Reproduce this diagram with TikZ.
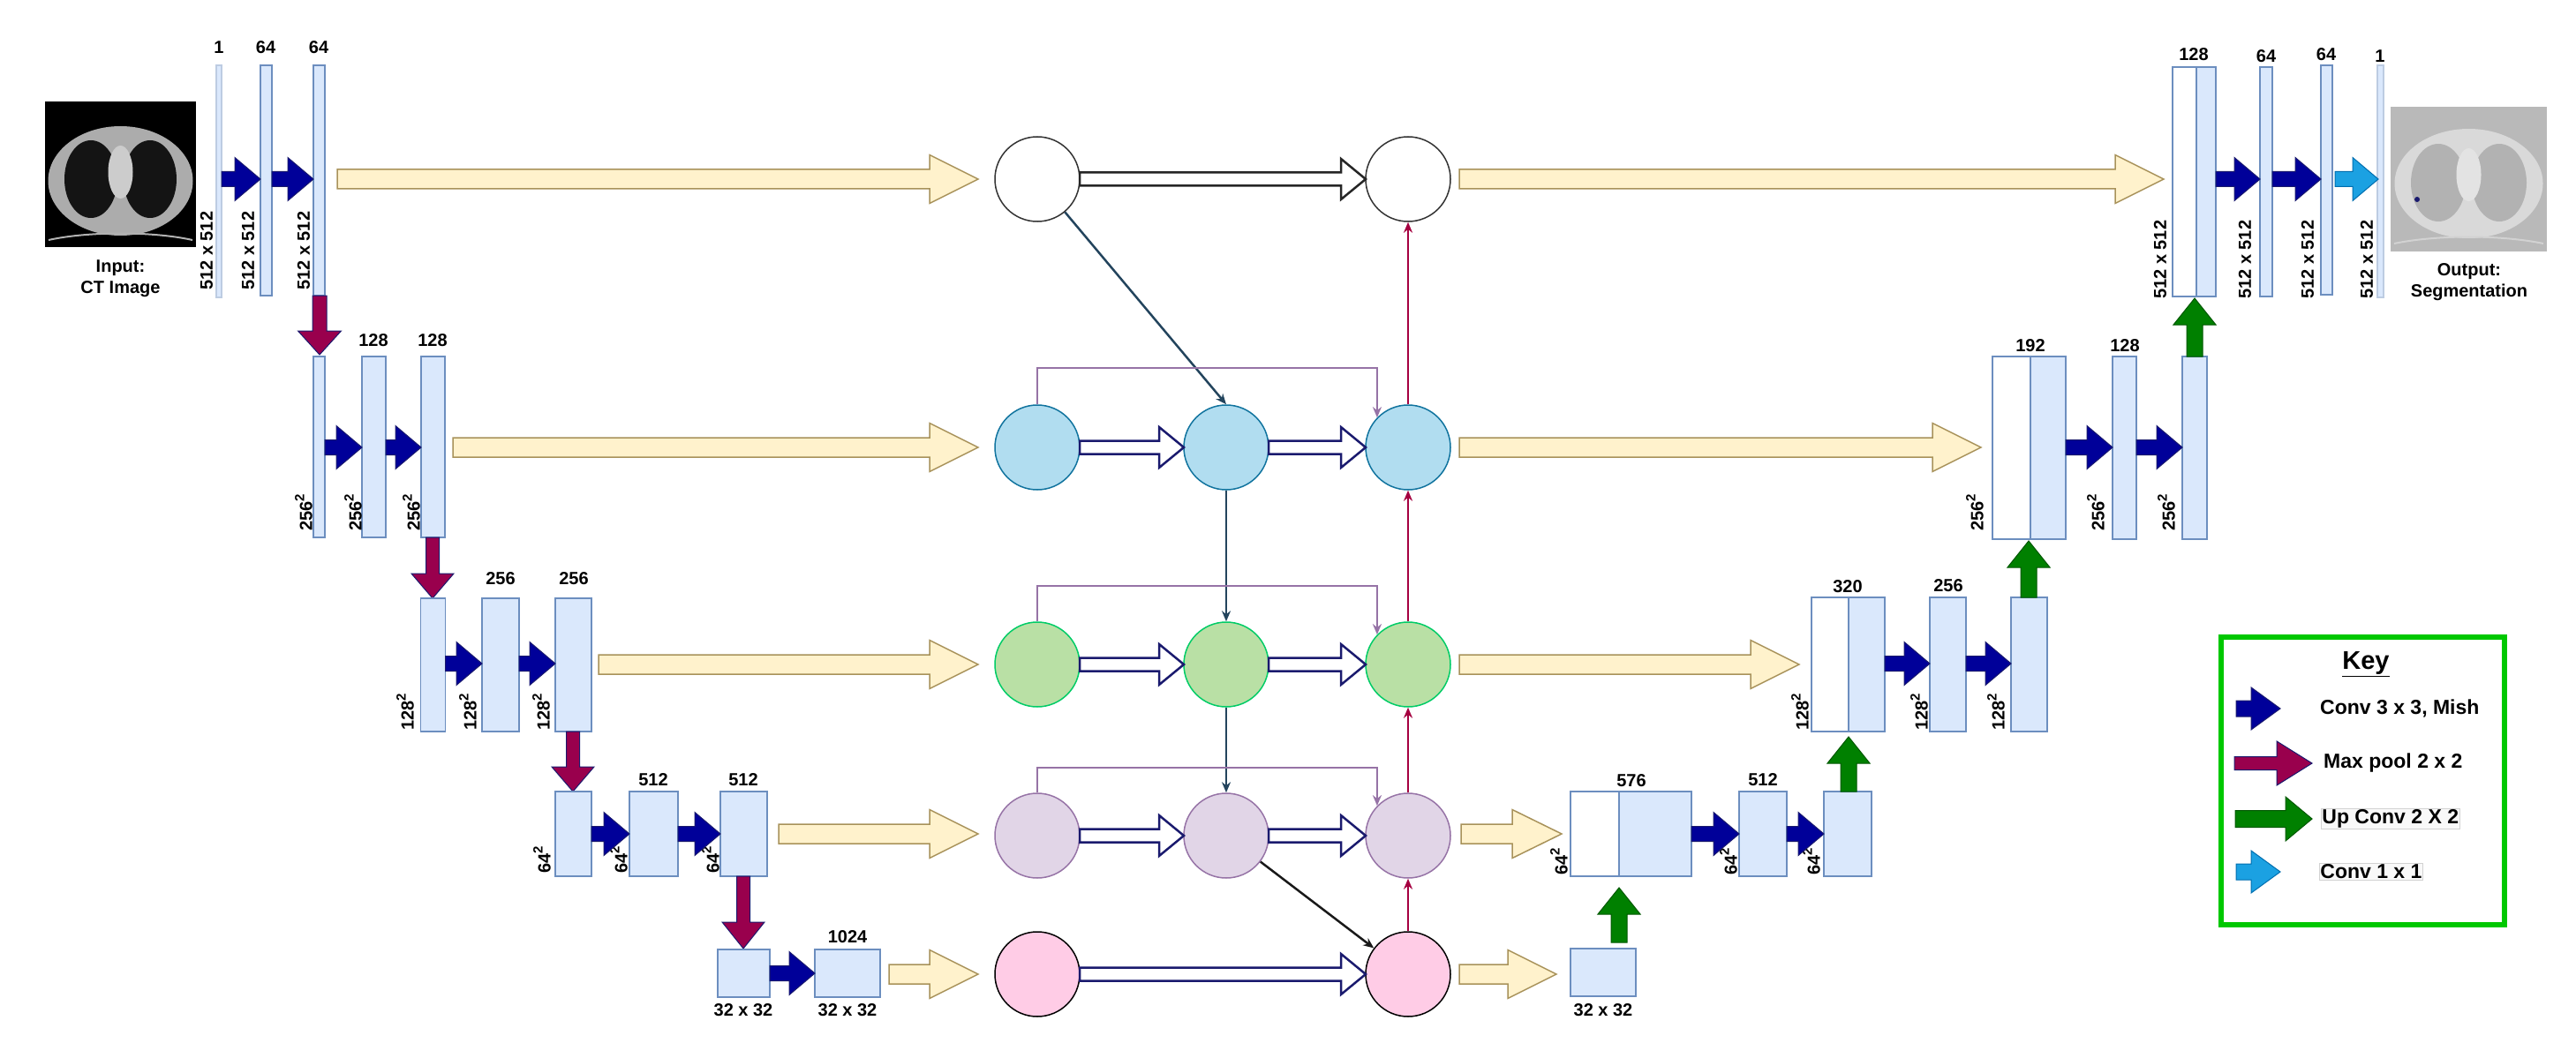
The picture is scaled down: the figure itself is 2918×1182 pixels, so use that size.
\documentclass[tikz,border=0pt]{standalone}
\usepackage{fontspec}
\setmainfont{Liberation Sans}
\usetikzlibrary{arrows.meta}
\definecolor{barF}{HTML}{DAE8FC}\definecolor{barS}{HTML}{6C8EBF}
\definecolor{convF}{HTML}{000099}\definecolor{convS}{HTML}{1A1A6E}
\definecolor{poolF}{HTML}{99004D}
\definecolor{upF}{HTML}{008000}\definecolor{upS}{HTML}{005700}
\definecolor{ocF}{HTML}{1BA1E2}\definecolor{ocS}{HTML}{006EAF}
\definecolor{skF}{HTML}{FFF2CC}\definecolor{skS}{HTML}{A8925A}
\definecolor{teal}{HTML}{23445D}\definecolor{redc}{HTML}{A50040}
\definecolor{purp}{HTML}{9673A6}\definecolor{purF}{HTML}{E1D5E7}
\definecolor{bluF}{HTML}{B1DDF0}\definecolor{bluS}{HTML}{10739E}
\definecolor{grnF}{HTML}{B9E0A5}\definecolor{grnS}{HTML}{00CC66}
\definecolor{pnkF}{HTML}{FFCCE6}\definecolor{keyG}{HTML}{00C800}
\tikzset{
 bar/.style={draw=barS,fill=barF,line width=1.5pt,inner sep=0,outer sep=0},
 wbar/.style={draw=barS,fill=white,line width=1.5pt,inner sep=0,outer sep=0},
 pbar/.style={draw=barS!45,fill=barF,line width=1.2pt,inner sep=0,outer sep=0},
 num/.style={font=\fontsize{20}{22}\selectfont\bfseries,inner sep=1pt},
 txt/.style={font=\fontsize{23}{27}\selectfont\bfseries,inner sep=1pt,align=center},
 conv/.style={fill=convF,draw=convS,line width=1pt},
 pool/.style={fill=poolF,draw=convS,line width=1pt},
 upc/.style={fill=upF,draw=upS,line width=1pt},
 oc/.style={fill=ocF,draw=ocS,line width=1pt},
 skip/.style={fill=skF,draw=skS,line width=1.5pt},
 hol/.style={fill=white,draw=convS,line width=2.5pt},
 hol1/.style={fill=white,draw=black!85,line width=2.5pt},
 cir/.style={circle,minimum size=96pt,inner sep=0,line width=1.5pt},
 con/.style={line width=2.5pt,-{Stealth[length=12pt,width=10pt]}},
}
% horizontal arrow: style, x1, y, x2, shaft half, head half, head length
\newcommand\HA[7]{\draw[#1] ({#2},{#3-#5}) -- ({#4-#7},{#3-#5}) -- ({#4-#7},{#3-#6}) -- ({#4},{#3}) -- ({#4-#7},{#3+#6}) -- ({#4-#7},{#3+#5}) -- ({#2},{#3+#5}) -- cycle;}
% vertical arrow: style, x, y1, y2(tip), shaft half, head half, signed head length
\newcommand\VA[7]{\draw[#1] ({#2-#5},{#3}) -- ({#2-#5},{#4-(#7)}) -- ({#2-#6},{#4-(#7)}) -- ({#2},{#4}) -- ({#2+#6},{#4-(#7)}) -- ({#2+#5},{#4-(#7)}) -- ({#2+#5},{#3}) -- cycle;}
% layer: name, x1, x2, y1, y2, style
\newcommand\lay[6]{\node[#6,minimum width={(#3-#2)*1pt},minimum height={(#5-#4)*1pt}] (#1) at ({(#2+#3)/2},{(#4+#5)/2}) {};}
\newcommand\rl[3]{\node[num,rotate=90,anchor=west] at (#1,#2) {#3};}
\newcommand\sq{\raisebox{0.45em}{\fontsize{15}{15}\selectfont 2}}
\begin{document}
\begin{tikzpicture}[x=1pt,y=-1pt]
\useasboundingbox (0,0) rectangle (2918,1182);
% ---------- input image
\node[fill=black,minimum width=171pt,minimum height=165pt,inner sep=0] (inimg) at (136.5,197.5) {};
\begin{scope}
\clip (51,115) rectangle (222,280);
\fill[gray!65] (136.5,205) ellipse [x radius=82,y radius=62];
\fill[black!92] (103,203) ellipse [x radius=30,y radius=44];
\fill[black!92] (170,203) ellipse [x radius=30,y radius=44];
\fill[gray!40] (136.5,195) ellipse [x radius=14,y radius=30];
\draw[gray!60,line width=2pt] (55,272) .. controls (100,262) and (173,262) .. (218,272);
\end{scope}
\node[txt,font=\fontsize{20}{24}\selectfont\bfseries] (inl) at (136.5,316) {Input:\\CT Image};
% ---------- output image
\node[fill=gray!55,minimum width=177pt,minimum height=164pt,inner sep=0] (outimg) at (2796.5,203) {};
\begin{scope}
\clip (2708,121) rectangle (2885,285);
\fill[gray!30] (2796.5,208) ellipse [x radius=84,y radius=62];
\fill[gray!60] (2762,207) ellipse [x radius=31,y radius=44];
\fill[gray!60] (2831,207) ellipse [x radius=31,y radius=44];
\fill[gray!22] (2796.5,198) ellipse [x radius=14,y radius=30];
\fill[convS] (2738,226) circle (3);
\draw[gray!35,line width=2pt] (2712,276) .. controls (2760,266) and (2833,266) .. (2881,276);
\end{scope}
\node[txt,font=\fontsize{20}{24}\selectfont\bfseries] (outl) at (2797,320) {Output:\\Segmentation};
% ---------- encoder row 1
\lay{e1a}{245}{251}{74}{337}{pbar}
\lay{e1b}{295}{308}{74}{335}{bar}
\lay{e1c}{355}{368}{74}{335}{bar}
\node[num] at (248,54) {1}; \node[num] at (301,54) {64}; \node[num] at (361,54) {64};
\rl{234}{330}{512 x 512}\rl{281}{330}{512 x 512}\rl{344}{330}{512 x 512}
\HA{conv}{251}{203}{295}{8.5}{24.5}{29}
\HA{conv}{308}{203}{355}{8.5}{24.5}{29}
\VA{pool}{362}{335}{402}{8}{24.5}{27}
% row 2
\lay{e2a}{355}{368}{404}{609}{bar}
\lay{e2b}{410}{437}{404}{609}{bar}
\lay{e2c}{477}{504}{404}{609}{bar}
\node[num] at (423,386) {128}; \node[num] at (490,386) {128};
\rl{344}{603}{256\sq}\rl{400}{603}{256\sq}\rl{466}{603}{256\sq}
\HA{conv}{368}{507}{410}{8.5}{24.5}{29}
\HA{conv}{437}{507}{477}{8.5}{24.5}{29}
\VA{pool}{490}{609}{678}{7.5}{24}{28}
% row 3
\lay{e3a}{476.5}{504.5}{678}{829}{bar}
\lay{e3b}{546}{588}{678}{829}{bar}
\lay{e3c}{629}{670}{678}{829}{bar}
\node[num] at (567,656) {256}; \node[num] at (650,656) {256};
\rl{459}{829}{128\sq}\rl{530}{829}{128\sq}\rl{613}{829}{128\sq}
\HA{conv}{504.5}{752}{546}{8.5}{24.5}{29}
\HA{conv}{588}{752}{629}{8.5}{24.5}{29}
\VA{pool}{649}{829}{897}{7.5}{24}{28}
% row 4
\lay{e4a}{629}{670}{897}{993}{bar}
\lay{e4b}{713}{768}{897}{993}{bar}
\lay{e4c}{816}{869}{897}{993}{bar}
\node[num] at (740,884) {512}; \node[num] at (842,884) {512};
\rl{614}{991}{64\sq}\rl{701}{991}{64\sq}\rl{805}{991}{64\sq}
\HA{conv}{670}{945}{713}{8.5}{24.5}{29}
\HA{conv}{768}{945}{816}{8.5}{24.5}{29}
\VA{pool}{842}{993}{1075}{7.5}{24}{30}
% row 5
\lay{e5a}{813}{872}{1076}{1130}{bar}
\lay{e5b}{923}{997}{1076}{1130}{bar}
\node[num] at (960,1062) {1024};
\node[num] at (842,1145) {32 x 32}; \node[num] at (960,1145) {32 x 32};
\HA{conv}{872}{1103}{923}{8.5}{24.5}{29}
% ---------- skip arrows
\HA{skip}{382}{203}{1108}{11}{27.5}{55}
\HA{skip}{513}{507}{1108}{11}{27.5}{55}
\HA{skip}{678}{753}{1108}{11}{27.5}{55}
\HA{skip}{882}{945}{1108}{11}{27.5}{55}
\HA{skip}{1007}{1104}{1108}{11}{27.5}{55}
\HA{skip}{1653}{203}{2451}{11}{27.5}{55}
\HA{skip}{1653}{507}{2244}{11}{27.5}{55}
\HA{skip}{1653}{753}{2038}{11}{27.5}{55}
\HA{skip}{1655}{945}{1769}{11}{27.5}{56}
\HA{skip}{1653}{1104}{1763}{11}{27.5}{55}
% ---------- circles
\node[cir,draw=black!80,fill=white] (c11) at (1175,203) {};
\node[cir,draw=black!80,fill=white] (c13) at (1595,203) {};
\node[cir,draw=bluS,fill=bluF] (c21) at (1175,507) {};
\node[cir,draw=bluS,fill=bluF] (c22) at (1389,507) {};
\node[cir,draw=bluS,fill=bluF] (c23) at (1595,507) {};
\node[cir,draw=grnS,fill=grnF] (c31) at (1175,753) {};
\node[cir,draw=grnS,fill=grnF] (c32) at (1389,753) {};
\node[cir,draw=grnS,fill=grnF] (c33) at (1595,753) {};
\node[cir,draw=purp,fill=purF] (c41) at (1175,947) {};
\node[cir,draw=purp,fill=purF] (c42) at (1389,947) {};
\node[cir,draw=purp,fill=purF] (c43) at (1595,947) {};
\node[cir,draw=black,fill=pnkF] (c51) at (1175,1104) {};
\node[cir,draw=black,fill=pnkF] (c53) at (1595,1104) {};
% hollow arrows
\HA{hol1}{1223}{203}{1547}{7.5}{23}{28}
\HA{hol}{1223}{507}{1341}{7.5}{23}{28}
\HA{hol}{1437}{507}{1547}{7.5}{23}{28}
\HA{hol}{1223}{753}{1341}{7.5}{23}{28}
\HA{hol}{1437}{753}{1547}{7.5}{23}{28}
\HA{hol}{1223}{947}{1341}{7.5}{23}{28}
\HA{hol}{1437}{947}{1547}{7.5}{23}{28}
\HA{hol}{1223}{1104}{1547}{7.5}{23}{28}
% connectors
\draw[con,draw=teal] (c11) -- (c22.north);
\draw[con,draw=teal] (c22.south) -- (c32.north);
\draw[con,draw=teal] (c32.south) -- (c42.north);
\draw[con,draw=black!90] (c42) -- (c53);
\foreach \a/\b in {c53/c43,c43/c33,c33/c23,c23/c13}
  \draw[con,draw=redc,line width=2pt] (\a.north) -- (\b.south);
\draw[con,draw=purp] (c21.north) -- (c21.north |- 0,417) -| (c23.136.8);
\draw[con,draw=purp] (c31.north) -- (c31.north |- 0,664) -| (c33.136.8);
\draw[con,draw=purp] (c41.north) -- (c41.north |- 0,870) -| (c43.136.8);
% ---------- decoder row 4
\lay{d5}{1779}{1853}{1075}{1129}{bar}
\node[num] at (1816,1145) {32 x 32};
\VA{upc}{1834}{1068}{1006}{9}{24}{-30}
\lay{d4w}{1779}{1834}{897}{993}{wbar}
\lay{d4a}{1834}{1916}{897}{993}{bar}
\lay{d4b}{1970}{2024}{897}{993}{bar}
\lay{d4c}{2066}{2120}{897}{993}{bar}
\node[num] at (1848,885) {576}; \node[num] at (1997,884) {512};
\rl{1766}{993}{64\sq}\rl{1958}{993}{64\sq}\rl{2052}{993}{64\sq}
\HA{conv}{1916}{945}{1970}{8.5}{24.5}{29}
\HA{conv}{2024}{945}{2066}{8.5}{24.5}{29}
\VA{upc}{2094}{897}{835}{9}{24}{-30}
% row 3
\lay{d3w}{2052}{2094}{677}{829}{wbar}
\lay{d3a}{2094}{2135}{677}{829}{bar}
\lay{d3b}{2186}{2227}{677}{829}{bar}
\lay{d3c}{2278}{2319}{677}{829}{bar}
\node[num] at (2093,665) {320}; \node[num] at (2207,664) {256};
\rl{2039}{829}{128\sq}\rl{2174}{829}{128\sq}\rl{2261}{829}{128\sq}
\HA{conv}{2135}{752}{2186}{8.5}{24.5}{29}
\HA{conv}{2227}{752}{2278}{8.5}{24.5}{29}
\VA{upc}{2298}{677}{613}{9}{24}{-30}
% row 2
\lay{d2w}{2257}{2300}{404}{611}{wbar}
\lay{d2a}{2300}{2340}{404}{611}{bar}
\lay{d2b}{2393}{2420}{404}{611}{bar}
\lay{d2c}{2472}{2500}{404}{611}{bar}
\node[num] at (2300,392) {192}; \node[num] at (2407,392) {128};
\rl{2237}{603}{256\sq}\rl{2374}{603}{256\sq}\rl{2454}{603}{256\sq}
\HA{conv}{2340}{507}{2393}{8.5}{24.5}{29}
\HA{conv}{2420}{507}{2472}{8.5}{24.5}{29}
\VA{upc}{2486}{404}{338}{9}{24}{-30}
% row 1
\lay{d1w}{2461}{2488}{76}{336}{wbar}
\lay{d1a}{2488}{2510}{76}{336}{bar}
\lay{d1b}{2560}{2574}{76}{336}{bar}
\lay{d1c}{2629}{2642}{74}{334}{bar}
\lay{d1d}{2693}{2700}{74}{337}{pbar}
\node[num] at (2485,62) {128}; \node[num] at (2567,64) {64}; \node[num] at (2635,62) {64}; \node[num] at (2696,64) {1};
\rl{2447}{340}{512 x 512}\rl{2543}{340}{512 x 512}\rl{2614}{340}{512 x 512}\rl{2681}{340}{512 x 512}
\HA{conv}{2510}{203}{2560}{8.5}{24.5}{29}
\HA{conv}{2574}{203}{2629}{8.5}{24.5}{29}
\HA{oc}{2645}{203}{2694}{8.5}{24.5}{29}
% ---------- key
\node[draw=keyG,line width=6pt,minimum width=321pt,minimum height=326pt,inner sep=0] (key) at (2676.5,885) {};
\node[font=\fontsize{29}{32}\selectfont\bfseries,inner sep=0] (keyt) at (2680,753) {\underline{Key}};
\HA{conv}{2533}{803}{2583}{9}{24}{33}
\HA{pool}{2531}{865}{2619}{7.5}{25}{40}
\HA{upc}{2532}{928}{2619}{9.5}{25}{30}
\HA{oc}{2533}{988}{2583}{9}{24}{33}
\node[txt,anchor=west] (k1) at (2627,803) {Conv 3 x 3, Mish};
\node[txt,anchor=west] (k2) at (2631,865) {Max pool 2 x 2};
\node[txt,anchor=west,draw=gray!35,fill=gray!5,line width=0.8pt] (k3) at (2629,928) {Up Conv 2 X 2};
\node[txt,anchor=west,draw=gray!35,fill=gray!5,line width=0.8pt] (k4) at (2627,988) {Conv 1 x 1};
\end{tikzpicture}
\end{document}
